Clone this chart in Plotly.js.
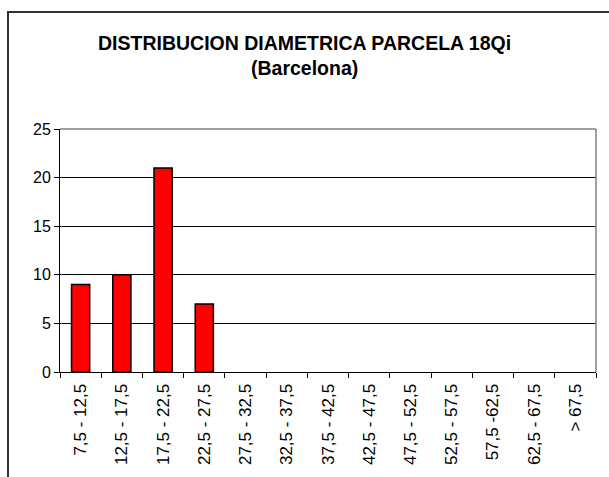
<!DOCTYPE html>
<html>
<head>
<meta charset="utf-8">
<script src="https://cdn.plot.ly/plotly-3.0.1.min.js"></script>
<style>
html,body{margin:0;padding:0;background:#fff;overflow:hidden;}
#wrap{position:relative;width:609px;height:477px;overflow:hidden;}
#chart{width:609px;height:477px;}
#frame{position:absolute;left:7px;top:11px;width:640px;height:520px;border:2px solid #333;pointer-events:none;box-sizing:border-box;}
</style>
</head>
<body>
<div id="wrap"><div id="chart"></div><div id="frame"></div></div>
<script>
const categories = ["7,5 - 12,5","12,5 - 17,5","17,5 - 22,5","22,5 - 27,5","27,5 - 32,5","32,5 - 37,5","37,5 - 42,5","42,5 - 47,5","47,5 - 52,5","52,5 - 57,5","57,5 -62,5","62,5 - 67,5","> 67,5"];
const counts = [9,10,21,7,0,0,0,0,0,0,0,0,0];
const yTicks = [0,5,10,15,20,25];
const titleLine1 = "DISTRIBUCION DIAMETRICA PARCELA 18Qi";
const titleLine2 = "(Barcelona)";

const ML = 60, MR = 13, MT = 129, MB = 105, W = 609, H = 477;
const pw = W - ML - MR, ph = H - MT - MB;
const px = v => (v - ML) / pw;
const py = v => (H - MB - v) / ph;

const trace = {
  type: 'bar', x: categories, y: counts,
  marker: {color: '#ff0000', line: {color: '#000000', width: counts.map(v => v > 0 ? 1.5 : 0)}},
  hoverinfo: 'x+y'
};
const fam = 'Liberation Sans, Arial, sans-serif';
const layout = {
  width: W, height: H,
  margin: {l: ML, r: MR, t: MT, b: MB},
  paper_bgcolor: '#fff', plot_bgcolor: '#fff',
  showlegend: false, bargap: 0.56,
  font: {family: fam, color: '#000', size: 15},
  xaxis: {type: 'category', tickson: 'boundaries', ticks: 'outside', ticklen: 5, tickcolor: '#000',
    tickangle: -90, ticklabelstandoff: 4, showline: true, linecolor: '#000', linewidth: 1, showgrid: false,
    tickfont: {size: 17, family: fam, color: '#000'}},
  yaxis: {range: [0, 25], tickvals: yTicks, ticks: 'outside', ticklen: 5, tickcolor: '#000',
    showline: true, linecolor: '#000', linewidth: 1, showgrid: true, gridcolor: '#000', gridwidth: 1,
    zeroline: false, tickfont: {size: 16, family: fam, color: '#000'}},
  annotations: [
    {text: '<b>' + titleLine1 + '</b>', xref: 'paper', yref: 'paper', x: px(304), y: py(43),
     xanchor: 'center', yanchor: 'middle', showarrow: false, font: {size: 19.5, family: fam, color: '#000'}},
    {text: '<b>' + titleLine2 + '</b>', xref: 'paper', yref: 'paper', x: px(304), y: py(68),
     xanchor: 'center', yanchor: 'middle', showarrow: false, font: {size: 19.5, family: fam, color: '#000'}}
  ],
  shapes: [
    {type: 'line', xref: 'paper', yref: 'paper', x0: 0, x1: 1, y0: 1, y1: 1, line: {color: '#808080', width: 1.5}},
    {type: 'line', xref: 'paper', yref: 'paper', x0: 1, x1: 1, y0: 0, y1: 1, line: {color: '#808080', width: 1.5}}
  ]
};
Plotly.newPlot('chart', [trace], layout, {displayModeBar: false, staticPlot: true});
</script>
</body>
</html>
